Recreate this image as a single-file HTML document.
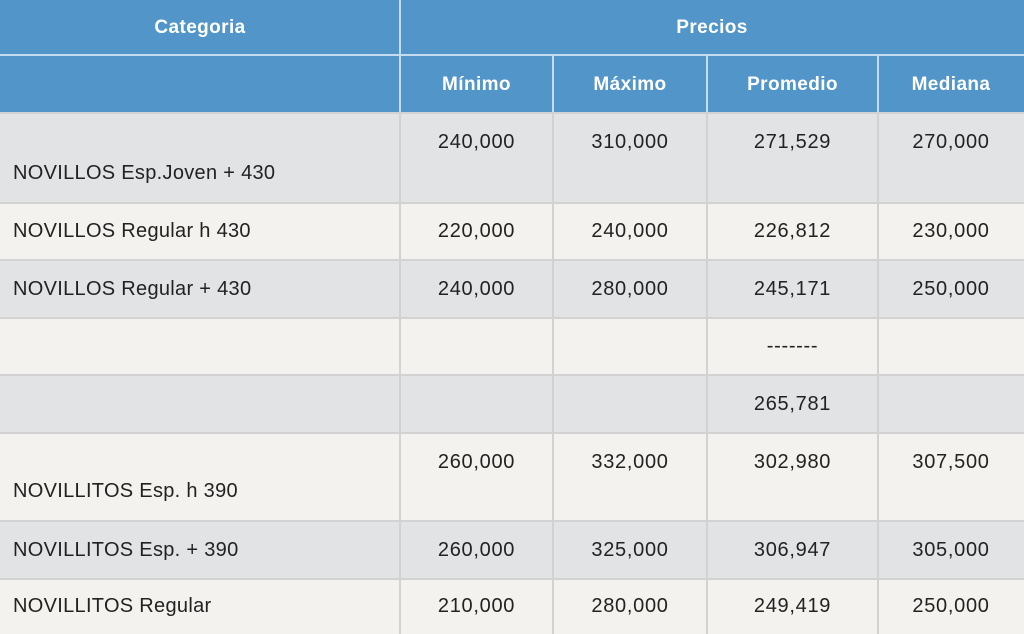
<!DOCTYPE html>
<html><head><style>
body{margin:0;width:1024px;height:634px;overflow:hidden;background:#f3f2ee;font-family:"Liberation Sans",sans-serif;}
.c{position:absolute;box-sizing:border-box;display:flex;justify-content:center;font-size:20px;letter-spacing:0.7px;color:#222;}
.h{background:#5195c9;color:#fff;font-weight:bold;align-items:center;font-size:19px;letter-spacing:0.4px;}
.g{background:#e2e3e5}.w{background:#f3f2ee}
.l{justify-content:flex-start;padding-left:13px;letter-spacing:0.3px}
.m{align-items:center}.t{align-items:flex-start;padding-top:18px}.b{align-items:flex-end;padding-bottom:18px}
.vl{position:absolute;width:2px;background:#d2d2d2}
.hl{position:absolute;height:2px;left:0;width:1024px;background:#d2d2d2}
</style></head><body>
<div class="c h" style="left:0;top:0;width:400px;height:56px">Categoria</div>
<div class="c h" style="left:400px;top:0;width:624px;height:56px">Precios</div>
<div class="c h" style="left:0;top:56px;width:400px;height:57px"></div>
<div class="c h" style="left:400px;top:56px;width:153px;height:57px">Mínimo</div>
<div class="c h" style="left:553px;top:56px;width:154px;height:57px">Máximo</div>
<div class="c h" style="left:707px;top:56px;width:171px;height:57px">Promedio</div>
<div class="c h" style="left:878px;top:56px;width:146px;height:57px">Mediana</div>
<div style="position:absolute;left:0;top:54px;width:1024px;height:2px;background:#c5dbef"></div>
<div style="position:absolute;left:399px;top:0;width:2px;height:113px;background:#c5dbef"></div>
<div style="position:absolute;left:552px;top:56px;width:2px;height:57px;background:#c5dbef"></div>
<div style="position:absolute;left:706px;top:56px;width:2px;height:57px;background:#c5dbef"></div>
<div style="position:absolute;left:877px;top:56px;width:2px;height:57px;background:#c5dbef"></div>
<div id="rows"></div>
<script>
var rows=[
[113,90,"g","NOVILLOS Esp.Joven + 430",["240,000","310,000","271,529","270,000"],1],
[203,57,"w","NOVILLOS Regular h 430",["220,000","240,000","226,812","230,000"],0],
[260,58,"g","NOVILLOS Regular + 430",["240,000","280,000","245,171","250,000"],0],
[318,57,"w","",["","","-------",""],0],
[375,58,"g","",["","","265,781",""],0],
[433,88,"w","NOVILLITOS Esp. h 390",["260,000","332,000","302,980","307,500"],1],
[521,58,"g","NOVILLITOS Esp. + 390",["260,000","325,000","306,947","305,000"],0],
[579,55,"w","NOVILLITOS Regular",["210,000","280,000","249,419","250,000"],0]];
var xs=[[400,153],[553,154],[707,171],[878,146]],h="";
rows.forEach(function(r){
 h+='<div class="c l '+r[2]+' '+(r[5]?'b':'m')+'" style="left:0;top:'+r[0]+'px;width:400px;height:'+r[1]+'px">'+r[3]+'</div>';
 r[4].forEach(function(v,i){h+='<div class="c '+r[2]+' '+(r[5]?'t':'m')+'" style="left:'+xs[i][0]+'px;top:'+r[0]+'px;width:'+xs[i][1]+'px;height:'+r[1]+'px">'+v+'</div>';});
 h+='<div class="hl" style="top:'+(r[0]-1)+'px"></div>';
});
[399,552,706,877].forEach(function(x){h+='<div class="vl" style="left:'+x+'px;top:113px;height:521px"></div>';});
document.getElementById("rows").innerHTML=h;
</script>
</body></html>
